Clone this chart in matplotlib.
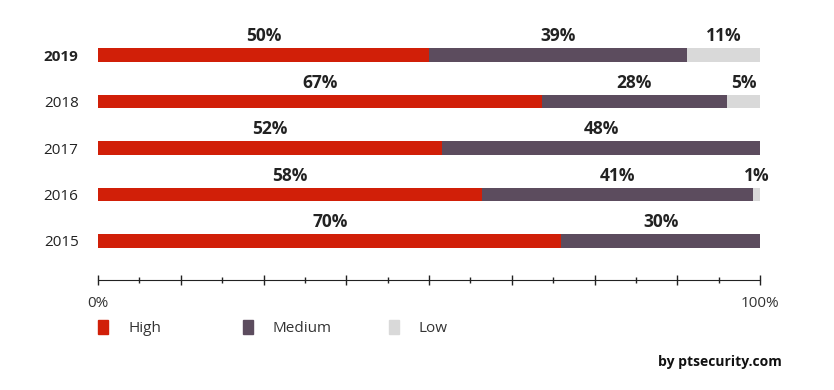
import matplotlib
matplotlib.use("Agg")
import matplotlib.pyplot as plt
from matplotlib.patches import Rectangle
from matplotlib.ticker import FixedLocator

plt.rcParams['font.family'] = ['Open Sans', 'DejaVu Sans']

years = ["2015", "2016", "2017", "2018", "2019"]
high = [70, 58, 52, 67, 50]
medium = [30, 41, 48, 28, 39]
low = [0, 1, 0, 5, 11]
series_names = ["High", "Medium", "Low"]
colors = ["#d11f08", "#5c4c5e", "#d9d9d9"]

fig = plt.figure(figsize=(8.34, 3.9), dpi=100)
ax = fig.add_axes([98 / 834, 1 - 280 / 390, 662 / 834, 250 / 390])

ypos = list(range(len(years)))
left = [0] * len(years)
for vals, col in zip([high, medium, low], colors):
    bars = ax.barh(ypos, vals, left=left, height=0.3, color=col)
    for b, v in zip(bars, vals):
        if v > 0:
            ax.annotate(f"{v}%", (b.get_x() + b.get_width() / 2, b.get_y() + b.get_height()),
                        xytext=(0, 2), textcoords="offset points", ha="center", va="bottom",
                        fontsize=12.5, fontweight="bold", color="#222222")
    left = [l + v for l, v in zip(left, vals)]

ax.set_xlim(0, 100)
ax.set_ylim(-0.839, 4.538)
ax.set_yticks(ypos)
ax.set_yticklabels(years, fontsize=11, color="#222222")
ax.get_yticklabels()[-1].set_fontweight("bold")
ax.tick_params(axis="y", length=0, pad=14)

# major every 12.5%, small ticks in between
ax.xaxis.set_major_locator(FixedLocator([0, 100]))
ax.set_xticklabels(["0%", "100%"], fontsize=11, color="#333333")
ax.xaxis.set_minor_locator(FixedLocator([i * 6.25 for i in range(1, 16)]))
ax.tick_params(axis="x", which="major", direction="inout", length=7, width=1, color="#222222", pad=8)
ax.tick_params(axis="x", which="minor", direction="inout", length=4, width=1, color="#222222")
for i, t in enumerate(ax.xaxis.get_minor_ticks()):
    if i % 2 == 1:
        t.tick1line.set_markersize(7)
for s in ["top", "right", "left"]:
    ax.spines[s].set_visible(False)
ax.spines["bottom"].set_color("#222222")

# legend
leg_x = [98, 243, 389]
for x, name, col in zip(leg_x, series_names, colors):
    fig.add_artist(Rectangle((x / 834, 1 - 334 / 390), 10 / 834, 14 / 390,
                             transform=fig.transFigure, color=col))
    fig.text((x + 30) / 834, 1 - 328 / 390, name, fontsize=11, color="#333333", va="center")

fig.text(782 / 834, 1 - 362 / 390, "by ptsecurity.com", fontsize=10, fontweight="bold",
         color="#111111", ha="right", va="center")

fig.savefig("out.png", dpi=100)
